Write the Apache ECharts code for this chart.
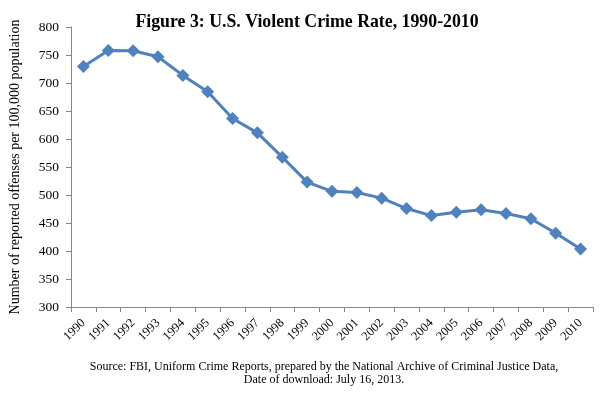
<!DOCTYPE html>
<html>
<head>
<meta charset="utf-8">
<script src="https://cdn.jsdelivr.net/npm/echarts@6/dist/echarts.min.js"></script>
<style>
  html, body { margin: 0; padding: 0; background: #fff; }
  #chart { width: 601px; height: 396px; }
</style>
</head>
<body>
<div id="chart"></div>
<script>
// data
var years = ['1990', '1991', '1992', '1993', '1994', '1995', '1996', '1997', '1998', '1999', '2000',
  '2001', '2002', '2003', '2004', '2005', '2006', '2007', '2008', '2009', '2010'];
var crimeRate = [729.6, 758.2, 757.7, 746.8, 713.6, 684.5, 636.6, 611.0, 567.6, 523.0, 506.5,
  504.5, 494.4, 475.8, 463.2, 469.0, 473.5, 466.9, 457.5, 431.9, 403.6];
var yTicks = { min: 300, max: 800, step: 50 };

var serif = '"Liberation Serif", "DejaVu Serif", serif';
var chart = echarts.init(document.getElementById('chart'));

var option = {
  backgroundColor: '#fff',
  animation: false,
  title: [{
    text: 'Figure 3: U.S. Violent Crime Rate, 1990-2010',
    left: 302,
    top: 8,
    textAlign: 'center',
    textStyle: { fontFamily: serif, fontSize: 17.8, fontWeight: 'bold', color: '#000' }
  }, {
    text: 'Source: FBI, Uniform Crime Reports, prepared by the National Archive of Criminal Justice Data,\nDate of download: July 16, 2013.',
    left: 319,
    top: 356,
    textAlign: 'center',
    textStyle: { fontFamily: serif, fontSize: 12, fontWeight: 'normal', color: '#000', lineHeight: 12.5 }
  }],
  grid: { left: 63, right: 8, top: 27, bottom: 89, containLabel: false },
  xAxis: {
    type: 'category',
    data: years,
    boundaryGap: true,
    axisLine: { lineStyle: { color: '#868686', width: 1 } },
    axisTick: { show: true, alignWithLabel: false, length: 5, lineStyle: { color: '#868686' } },
    axisLabel: {
      interval: 0,
      rotate: 45,
      margin: 14,
      fontFamily: serif,
      fontSize: 12.5,
      color: '#000'
    },
    splitLine: { show: false }
  },
  yAxis: {
    type: 'value',
    min: yTicks.min,
    max: yTicks.max,
    interval: yTicks.step,
    name: 'Number of reported offenses per 100,000 population',
    nameLocation: 'middle',
    nameGap: 49,
    nameTextStyle: { fontFamily: serif, fontSize: 14, color: '#000' },
    axisLine: { show: true, lineStyle: { color: '#868686', width: 1 } },
    axisTick: { show: true, length: 5, lineStyle: { color: '#868686' } },
    axisLabel: { fontFamily: serif, fontSize: 13.5, color: '#000', margin: 12 },
    splitLine: { show: false }
  },
  series: [{
    type: 'line',
    data: crimeRate,
    symbol: 'diamond',
    symbolSize: 13,
    lineStyle: { color: '#4F81BD', width: 3 },
    itemStyle: { color: '#4F81BD' }
  }]
};

chart.setOption(option);
</script>
</body>
</html>
